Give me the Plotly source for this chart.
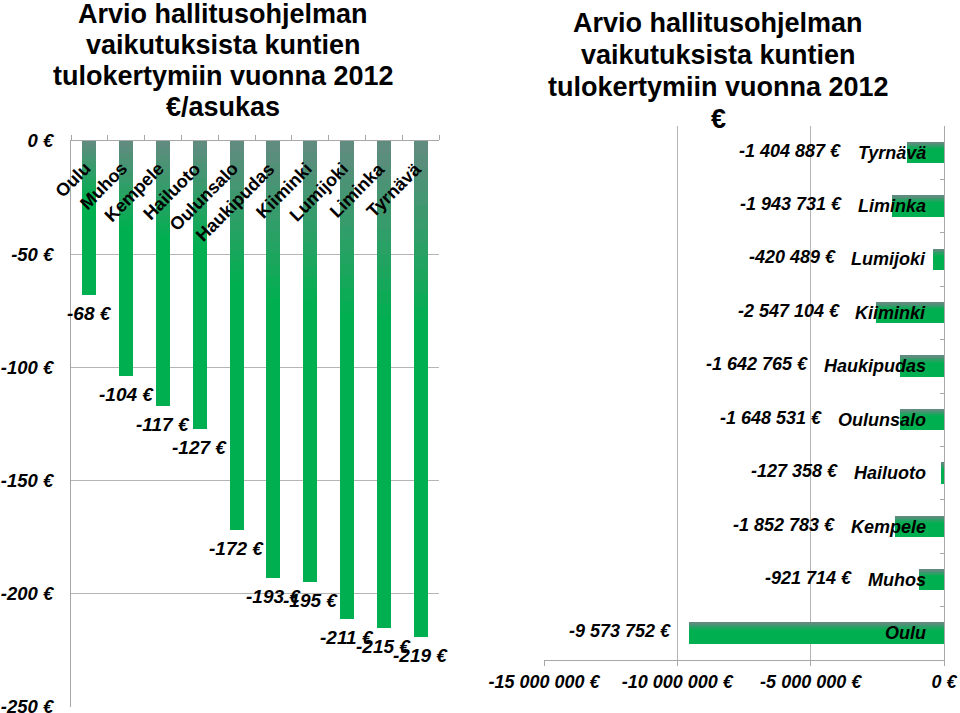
import plotly.graph_objects as go

municipalities = ["Oulu", "Muhos", "Kempele", "Hailuoto", "Oulunsalo",
                  "Haukipudas", "Kiiminki", "Lumijoki", "Liminka", "Tyrnävä"]
per_capita = [-68, -104, -117, -127, -172, -193, -195, -211, -215, -219]
totals = [-9573752, -921714, -1852783, -127358, -1648531,
          -1642765, -2547104, -420489, -1943731, -1404887]
left_ticks = [0, -50, -100, -150, -200, -250]
right_ticks = [-15000000, -10000000, -5000000, 0]

title_left = ["Arvio hallitusohjelman", "vaikutuksista kuntien",
              "tulokertymiin vuonna 2012", "€/asukas"]
title_right = ["Arvio hallitusohjelman", "vaikutuksista kuntien",
               "tulokertymiin vuonna 2012", "€"]

FONT = "Liberation Sans, Arial, sans-serif"
GREEN = (0, 176, 80)
GRAY = (96, 139, 127)
GRID = "#b5b5b5"
AXIS = "#a8a8a8"
W, H = 960, 713


def mix(t):
    c = [round(GREEN[i] + (GRAY[i] - GREEN[i]) * t) for i in range(3)]
    return f"rgb({c[0]},{c[1]},{c[2]})"


def eur(v):
    return f"{v:,}".replace(",", " ") + " €"


# Arial bold advance widths (per 1000 em) for label width estimates
CW = {"a": 556, "e": 556, "H": 722, "i": 278, "j": 278, "k": 556, "l": 278,
      "m": 889, "n": 611, "o": 611, "p": 611, "r": 389, "s": 556, "T": 611,
      "u": 611, "v": 556, "y": 556, "ä": 556, "d": 611, "K": 722, "L": 611,
      "M": 833, "O": 778, "h": 611, "t": 333}


def text_w(s, size):
    return sum(CW.get(ch, 556) for ch in s) / 1000 * size


fig = go.Figure()

# ---------- left: per capita vertical bars ----------
BW = 0.38
fig.add_trace(go.Bar(x=municipalities, y=per_capita, width=BW,
                     marker=dict(color=mix(0), line=dict(width=0)),
                     xaxis="x", yaxis="y", hoverinfo="skip", showlegend=False))
N = 14
for k in range(N):
    f = 0.36 * (1 - k / N)
    fig.add_trace(go.Bar(x=municipalities, y=[v * f for v in per_capita], width=BW,
                         marker=dict(color=mix((k + 1) / N), line=dict(width=0)),
                         xaxis="x", yaxis="y", hoverinfo="skip", showlegend=False))

# ---------- right: totals horizontal bars ----------
BH = 0.39
fig.add_trace(go.Bar(y=municipalities, x=totals, orientation="h", width=BH,
                     marker=dict(color=mix(0), line=dict(width=0)),
                     xaxis="x2", yaxis="y2", hoverinfo="skip", showlegend=False))
M = 8
for k in range(M):
    wk = BH * 0.32 * (1 - k / M)
    fig.add_trace(go.Bar(y=municipalities, x=totals, orientation="h", width=wk,
                         offset=BH / 2 - wk,
                         marker=dict(color=mix((k + 1) / M), line=dict(width=0)),
                         xaxis="x2", yaxis="y2", hoverinfo="skip", showlegend=False))

annotations = []
bi = dict(family=FONT, size=19, color="black", weight="bold", style="italic")
bi18 = dict(family=FONT, size=18, color="black", weight="bold", style="italic")

# left value labels and rotated category labels
for name, v in zip(municipalities, per_capita):
    annotations.append(dict(x=name, y=v, xref="x", yref="y", text=eur(v),
                            showarrow=False, xanchor="center", yanchor="top",
                            yshift=-6, font=bi))
    annotations.append(dict(x=name, y=0, xref="x", yref="y", text=name,
                            showarrow=False, textangle=-45, xanchor="right",
                            yanchor="top", xshift=8, yshift=-15,
                            font=dict(family=FONT, size=18, color="black",
                                      weight="bold")))

# right labels
px_per_unit = 400 / 15000000
for name, v in zip(municipalities, totals):
    cat_w = text_w(name, 18)
    annotations.append(dict(x=0, y=name, xref="x2", yref="y2", text=name,
                            showarrow=False, xanchor="right", yanchor="middle",
                            xshift=-16, font=bi18))
    label_left = -(16 + cat_w)
    bar_end = v * px_per_unit
    anchor = min(label_left, bar_end) - 16
    annotations.append(dict(x=0, y=name, xref="x2", yref="y2", text=eur(v),
                            showarrow=False, xanchor="right", yanchor="middle",
                            xshift=anchor, yshift=2, font=bi18))

# titles (one annotation per line)
tfont = dict(family=FONT, size=27, color="black", weight="bold")
for i, line in enumerate(title_left):
    annotations.append(dict(x=223 / W, y=1 - (14 + 31 * i) / H, xref="paper",
                            yref="paper", text=line, showarrow=False,
                            xanchor="center", yanchor="middle", font=tfont))
for i, line in enumerate(title_right):
    annotations.append(dict(x=718 / W, y=1 - (23 + 32 * i) / H, xref="paper",
                            yref="paper", text=line, showarrow=False,
                            xanchor="center", yanchor="middle", font=tfont))

fig.update_layout(
    width=W, height=H,
    margin=dict(l=0, r=0, t=0, b=0, autoexpand=False),
    paper_bgcolor="white", plot_bgcolor="white",
    barmode="overlay", bargap=0,
    showlegend=False,
    annotations=annotations,
    xaxis=dict(domain=[71 / W, 439 / W], anchor="y", side="top", automargin=False,
               type="category", categoryorder="array", categoryarray=municipalities,
               range=[-0.5, 9.5], showticklabels=False, showline=True,
               linecolor=AXIS, linewidth=1, ticks="outside", ticklen=5,
               tickcolor=AXIS, tickson="boundaries", showgrid=False, zeroline=False),
    yaxis=dict(domain=[1 - 707 / H, 1 - 141 / H], anchor="x", automargin=False,
               range=[-250, 0], tickvals=left_ticks,
               ticktext=[eur(t) for t in left_ticks],
               tickfont=dict(family=FONT, size=18.5, color="black",
                             weight="bold", style="italic"),
               ticklabeloverflow="allow",
               showline=True, linecolor=AXIS, linewidth=1,
               ticks="", ticklabelstandoff=13, showgrid=True, gridcolor=GRID,
               gridwidth=1, zeroline=False),
    xaxis2=dict(domain=[544 / W, 944 / W], anchor="y2", automargin=False,
                range=[-15000000, 0], tickvals=right_ticks,
                ticktext=[eur(t) for t in right_ticks], tickfont=bi18,
                ticklabeloverflow="allow",
                showline=True, linecolor=AXIS, linewidth=1, ticks="outside",
                ticklen=5, tickcolor=AXIS, showgrid=True, gridcolor=GRID,
                gridwidth=1, zeroline=False),
    yaxis2=dict(domain=[1 - 660 / H, 1 - 126 / H], anchor="x2", side="right",
                automargin=False,
                type="category", categoryorder="array", categoryarray=municipalities,
                range=[-0.5, 9.5], showticklabels=False, showline=True,
                linecolor=AXIS, linewidth=1, ticks="inside", ticklen=4,
                tickcolor=AXIS, tickson="boundaries", showgrid=False,
                zeroline=False),
)

fig.write_html("out.html", config={"displayModeBar": False},
               post_script="document.body.style.margin='0px';"
                           "document.body.style.overflow='hidden';")
